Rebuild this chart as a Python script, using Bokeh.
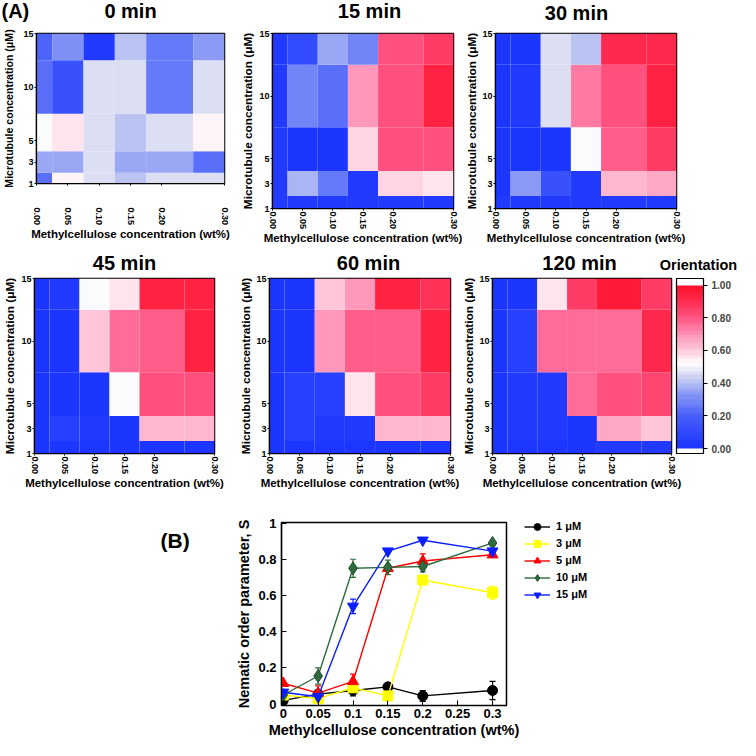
import numpy as np
from bokeh.plotting import figure
from bokeh.layouts import column, row
from bokeh.models import (ColumnDataSource, LinearColorMapper, ColorBar, FixedTicker,
                          Legend, LegendItem, Whisker, TeeHead, Range1d,
                          PrintfTickFormatter)
from bokeh.core.properties import value
from bokeh.transform import transform
from bokeh.embed import file_html
from bokeh.resources import INLINE

# ---------------- data ----------------
mc_conc = [0.00, 0.05, 0.10, 0.15, 0.20, 0.30]          # methylcellulose wt%
mc_tick_labels = ["0.00", "0.05", "0.10", "0.15", "0.20", "0.30"]
mt_conc = [1, 3, 5, 10, 15]                              # microtubule µM
mt_tick_labels = ["1", "3", "5", "10", "15"]
time_labels = ["0 min", "15 min", "30 min", "45 min", "60 min", "120 min"]

# orientation; rows = 1, 3, 5, 10, 15 µM ; columns = mc_conc
orient_0min = [
    [0.24, 0.54, 0.47, 0.40, 0.47, 0.45],
    [0.36, 0.36, 0.47, 0.36, 0.36, 0.24],
    [0.50, 0.57, 0.45, 0.40, 0.46, 0.54],
    [0.24, 0.14, 0.45, 0.47, 0.26, 0.46],
    [0.20, 0.32, 0.03, 0.40, 0.27, 0.35],
]
orient_15min = [
    [0.03, 0.03, 0.03, 0.03, 0.03, 0.03],
    [0.03, 0.38, 0.26, 0.03, 0.59, 0.56],
    [0.03, 0.02, 0.02, 0.60, 0.80, 0.80],
    [0.03, 0.28, 0.24, 0.70, 0.80, 0.95],
    [0.03, 0.10, 0.36, 0.30, 0.80, 0.87],
]
orient_30min = [
    [0.03, 0.03, 0.03, 0.03, 0.03, 0.03],
    [0.02, 0.35, 0.13, 0.03, 0.63, 0.67],
    [0.02, 0.02, 0.02, 0.52, 0.78, 0.86],
    [0.02, 0.03, 0.47, 0.73, 0.81, 0.95],
    [0.02, 0.02, 0.45, 0.40, 0.90, 0.90],
]
orient_45min = [
    [0.02, 0.02, 0.02, 0.02, 0.02, 0.02],
    [0.02, 0.06, 0.04, 0.02, 0.63, 0.63],
    [0.02, 0.02, 0.02, 0.52, 0.80, 0.80],
    [0.02, 0.02, 0.62, 0.75, 0.78, 0.95],
    [0.02, 0.04, 0.51, 0.56, 0.95, 0.95],
]
orient_60min = [
    [0.02, 0.02, 0.02, 0.02, 0.02, 0.02],
    [0.02, 0.06, 0.04, 0.03, 0.63, 0.63],
    [0.02, 0.05, 0.05, 0.56, 0.81, 0.85],
    [0.02, 0.02, 0.68, 0.79, 0.79, 0.94],
    [0.02, 0.02, 0.62, 0.68, 0.95, 0.88],
]
orient_120min = [
    [0.02, 0.02, 0.02, 0.02, 0.04, 0.04],
    [0.02, 0.03, 0.03, 0.02, 0.67, 0.61],
    [0.02, 0.04, 0.04, 0.77, 0.81, 0.83],
    [0.02, 0.05, 0.77, 0.77, 0.77, 0.92],
    [0.02, 0.02, 0.57, 0.87, 0.96, 0.87],
]
orient_all = [orient_0min, orient_15min, orient_30min, orient_45min, orient_60min, orient_120min]
cb_ticks = [0.0, 0.2, 0.4, 0.6, 0.8, 1.0]
cb_title = "Orientation"

# (B) nematic order parameter
b_x = [0.00, 0.05, 0.10, 0.15, 0.20, 0.30]
s_1uM = [0.02, 0.055, 0.075, 0.095, 0.045, 0.075]
s_1uM_err = [0.0, 0.0, 0.03, 0.0, 0.03, 0.05]
s_3uM = [0.05, 0.03, 0.09, 0.045, 0.685, 0.615]
s_3uM_err = [0.0, 0.0, 0.0, 0.0, 0.0, 0.035]
s_5uM = [0.115, 0.06, 0.125, 0.75, 0.79, 0.825]
s_5uM_err = [0.0, 0.04, 0.04, 0.0, 0.04, 0.0]
s_10uM = [0.05, 0.155, 0.75, 0.755, 0.76, 0.89]
s_10uM_err = [0.0, 0.045, 0.05, 0.04, 0.03, 0.0]
s_15uM = [0.065, 0.04, 0.54, 0.845, 0.905, 0.845]
s_15uM_err = [0.0, 0.0, 0.04, 0.0, 0.0, 0.0]
series_names = ["1 μM", "3 μM", "5 μM", "10 μM", "15 μM"]
b_xticks = [0, 0.05, 0.1, 0.15, 0.2, 0.25, 0.3]
b_xtick_labels = ["0", "0.05", "0.1", "0.15", "0.2", "0.25", "0.3"]
b_yticks = [0, 0.2, 0.4, 0.6, 0.8, 1.0]
b_ytick_labels = ["0", "0.2", "0.4", "0.6", "0.8", "1"]

# ---------------- style / layout ----------------
FONT = "Liberation Sans"
SC = 740 / 756


def k(v):
    return int(round(v * SC))


stops = [(0.0, (25, 50, 255)), (0.2, (70, 95, 250)), (0.35, (145, 160, 245)),
         (0.45, (212, 216, 240)), (0.52, (255, 255, 255)), (0.6, (255, 205, 222)),
         (0.7, (255, 145, 182)), (0.8, (255, 85, 132)), (0.9, (255, 45, 82)),
         (1.0, (255, 15, 40))]


def cmap(v):
    for (a, ca), (b, cb) in zip(stops[:-1], stops[1:]):
        if v <= b:
            t = (v - a) / (b - a)
            c = [int(round(ca[i] + t * (cb[i] - ca[i]))) for i in range(3)]
            return "#%02x%02x%02x" % tuple(c)
    return "#%02x%02x%02x" % stops[-1][1]


NB = 40
palette = [cmap((i + 0.5) / NB) for i in range(NB)]
mapper = LinearColorMapper(palette=palette, low=0.0, high=1.0)

cb_low, cb_high, cb_step = -0.03, 1.04, 0.01
cb_n = int(round((cb_high - cb_low) / cb_step))
cb_pal = []
for i in range(cb_n):
    c = cb_low + (i + 0.5) * cb_step
    cb_pal.append("#ffffff" if (c < 0 or c > 1) else palette[min(int(c * NB), NB - 1)])
cb_mapper = LinearColorMapper(palette=cb_pal, low=cb_low, high=cb_high)


def make_fig(x0, x1, fx0, fx1, height, top, bottom, xr, yr):
    p = figure(width=x1 - x0, height=height, x_range=xr, y_range=yr,
               output_backend="svg", toolbar_location=None, title=None,
               min_border_left=fx0 - x0, min_border_right=x1 - fx1,
               min_border_top=top, min_border_bottom=bottom)
    p.grid.visible = False
    p.outline_line_color = "black"
    p.outline_line_width = 1.5
    p.background_fill_color = "white"
    p.border_fill_color = "white"
    for ax in (p.xaxis[0], p.yaxis[0]):
        ax.axis_line_color = "black"
        ax.axis_line_width = 1.2
        ax.major_tick_line_color = "black"
        ax.minor_tick_line_color = None
        ax.major_label_text_font = FONT
        ax.major_label_text_font_style = "bold"
        ax.major_label_text_color = "black"
        ax.axis_label_text_font = FONT
        ax.axis_label_text_font_style = "bold"
        ax.axis_label_text_color = "black"
    return p


def blank_fig(width, height, xr, yr):
    p = figure(width=width, height=height, x_range=xr, y_range=yr,
               output_backend="svg", toolbar_location=None, title=None,
               x_axis_location=None, y_axis_location=None,
               min_border_left=0, min_border_right=0, min_border_top=0, min_border_bottom=0)
    p.grid.visible = False
    p.outline_line_color = None
    p.background_fill_color = "white"
    p.border_fill_color = "white"
    return p


def text_strip(width, height):
    # pixel coordinates, y measured downwards from the strip top
    return blank_fig(width, height, Range1d(0, width), Range1d(height, 0))


def put_text(p, xs, baselines, texts, size, align):
    ys = [b - 0.37 * size for b in baselines]
    p.text(x=xs, y=ys, text=texts, text_align=align, text_baseline="middle",
           text_font=value(FONT), text_font_style="bold", text_font_size=value("%gpx" % size),
           text_color="black")


def edges(c, lo, hi):
    mids = [(a + b) / 2 for a, b in zip(c[:-1], c[1:])]
    return [lo] + mids, mids + [hi]


xl, xr_ = edges(mc_conc, mc_conc[0], mc_conc[-1])
yb, yt = edges(mt_conc, mt_conc[0], mt_conc[-1])

W = 740
H_STRIP1, H_ROW1, H_STRIP2, H_ROW2 = 27, 224, 23, 222
H_ROW3 = W - H_STRIP1 - H_ROW1 - H_STRIP2 - H_ROW2

# (x0, x1, frame x0, frame x1, top border, bottom border, row height, x tick standoff,
#  y label standoff, y label font size)
panel_cfg = [
    (0, k(243), k(37), k(229), 6, H_ROW1 - 156, H_ROW1, 22, 5, "10.6px"),
    (k(243), k(472), k(273), k(463), 6, 43, H_ROW1, 1, 1, "11.8px"),
    (k(472), W, k(500), k(691), 6, 43, H_ROW1, 1, 0, "11.8px"),
    (0, k(241), k(30), k(219), 4, 43, H_ROW2, 1, 1, "11.8px"),
    (k(241), k(469), k(269), k(460), 4, 43, H_ROW2, 1, 0, "11.8px"),
    (k(469), W, k(496), k(686), 4, 43, H_ROW2, 1, 0, "11.8px"),
]

figs = []
for cfg, data in zip(panel_cfg, orient_all):
    x0, x1, fx0, fx1, top, bottom, hh, xstand, ystand, ylab_size = cfg
    p = make_fig(x0, x1, fx0, fx1, hh, top, bottom,
                 Range1d(mc_conc[0], mc_conc[-1]), Range1d(mt_conc[0], mt_conc[-1]))
    L, R, B, T, V = [], [], [], [], []
    for i in range(len(mt_conc)):
        for j in range(len(mc_conc)):
            L.append(xl[j]); R.append(xr_[j]); B.append(yb[i]); T.append(yt[i]); V.append(data[i][j])
    src = ColumnDataSource(dict(left=L, right=R, bottom=B, top=T, v=V))
    p.quad(left="left", right="right", bottom="bottom", top="top", source=src,
           fill_color=transform("v", mapper), line_color=None)
    xa, ya = p.xaxis[0], p.yaxis[0]
    xa.ticker = FixedTicker(ticks=mc_conc)
    xa.major_label_overrides = {v: s for v, s in zip(mc_conc, mc_tick_labels)}
    xa.major_label_orientation = "vertical"
    xa.major_label_text_font_size = "9px"
    xa.major_tick_in = 0
    xa.major_tick_out = 2
    xa.major_label_standoff = xstand
    xa.axis_label = "Methylcellulose concentration (wt%)"
    xa.axis_label_text_font_size = "11.5px"
    xa.axis_label_standoff = 0
    ya.ticker = FixedTicker(ticks=mt_conc)
    ya.major_label_overrides = {v: s for v, s in zip(mt_conc, mt_tick_labels)}
    ya.major_label_text_font_size = "9px"
    ya.major_tick_in = 0
    ya.major_tick_out = 2
    ya.major_label_standoff = 1
    ya.axis_label = "Microtubule concentration (μM)"
    ya.axis_label_text_font_size = ylab_size
    ya.axis_label_standoff = ystand
    figs.append(p)

# colour bar next to 120 min panel (same height as the heat-map frame)
p120 = figs[5]
frame_h2 = H_ROW2 - 4 - 43
cb = ColorBar(color_mapper=cb_mapper, ticker=FixedTicker(ticks=cb_ticks),
              formatter=PrintfTickFormatter(format="%.2f"),
              width=k(718) - k(691), height=frame_h2,
              location=(k(691) - k(496) - 6, 0), margin=0, padding=0,
              major_tick_in=0, major_tick_out=4, major_tick_line_color="black",
              minor_tick_line_color=None, bar_line_color="black", bar_line_width=1.2,
              label_standoff=4, major_label_text_font=FONT, major_label_text_font_style="bold",
              major_label_text_font_size="10px", background_fill_alpha=0, border_line_color=None)
p120.add_layout(cb)

# title strips
strip1 = text_strip(W, H_STRIP1)
put_text(strip1, [1], [18], ["(A)"], 20, "left")
put_text(strip1, [k(133), k(377), k(588)], [18, 18, 20], time_labels[:3], 20, "center")
strip2 = text_strip(W, H_STRIP2)
put_text(strip2, [k(127), k(376), k(592)], [18.5, 19, 19], time_labels[3:], 20, "center")
put_text(strip2, [k(713)], [19], [cb_title], 14.5, "center")

# ---------------- (B) ----------------
XB0, XB1 = k(200), k(535)
bstrip = text_strip(XB0, H_ROW3)
put_text(bstrip, [k(163)], [52], ["(B)"], 21, "left")

pB = make_fig(XB0, XB1, k(287), k(517), H_ROW3, 26, 35,
              Range1d(-0.0025, 0.32), Range1d(-0.008, 1.003))
bx, by = pB.xaxis[0], pB.yaxis[0]
bx.ticker = FixedTicker(ticks=b_xticks)
bx.major_label_overrides = {v: s for v, s in zip(b_xticks, b_xtick_labels)}
by.ticker = FixedTicker(ticks=b_yticks)
by.major_label_overrides = {v: s for v, s in zip(b_yticks, b_ytick_labels)}
for ax in (bx, by):
    ax.major_tick_in = 5
    ax.major_tick_out = 0
    ax.major_label_text_font_size = "13px"
bx.major_label_standoff = 3
by.major_label_standoff = 5
bx.axis_label = "Methylcellulose concentration (wt%)"
bx.axis_label_text_font_size = "14.5px"
bx.axis_label_standoff = 1
by.axis_label = "Nematic order parameter, S"
by.axis_label_text_font_size = "14.5px"
by.axis_label_standoff = 3

b_vals = [s_1uM, s_3uM, s_5uM, s_10uM, s_15uM]
b_errs = [s_1uM_err, s_3uM_err, s_5uM_err, s_10uM_err, s_15uM_err]
b_colors = ["black", "#ffff00", "#ff0000", "#2e6b3d", "#0a1eff"]
b_markers = ["circle", "square", "triangle", "diamond", "inverted_triangle"]
b_sizes = [10, 10, 11, 13, 11]

# legend in its own panel right of (B); its renderers reuse the series data but its
# ranges are far away from the data, so only the legend itself shows
legfig = blank_fig(W - XB1, H_ROW3, Range1d(10, 11), Range1d(10, 11))
items = []
for name, vals, errs, col, mk, sz in zip(series_names, b_vals, b_errs, b_colors, b_markers, b_sizes):
    ex = [x for x, e in zip(b_x, errs) if e > 0]
    eu = [v + e for v, e in zip(vals, errs) if e > 0]
    el = [v - e for v, e in zip(vals, errs) if e > 0]
    wsrc = ColumnDataSource(dict(x=ex, upper=eu, lower=el))
    pB.add_layout(Whisker(source=wsrc, base="x", upper="upper", lower="lower", line_color=col,
                          line_width=1.2,
                          upper_head=TeeHead(size=6, line_color=col, line_width=1.2),
                          lower_head=TeeHead(size=6, line_color=col, line_width=1.2)))
    src = ColumnDataSource(dict(x=b_x, y=vals))
    lc = "#1e4d2b" if mk == "diamond" else col
    pB.line("x", "y", source=src, line_color=col, line_width=1.4)
    pB.scatter("x", "y", source=src, marker=mk, size=sz, fill_color=col, line_color=lc, line_width=1)
    lr = legfig.line("x", "y", source=src, line_color=col, line_width=1.4)
    sr = legfig.scatter("x", "y", source=src, marker=mk, size=sz, fill_color=col, line_color=lc, line_width=1)
    items.append(LegendItem(label=name, renderers=[lr, sr]))

ROW_H = 17
leg_h = 5 * ROW_H
first_center = 30
leg = Legend(items=items, location=(0, H_ROW3 - (first_center - ROW_H / 2) - leg_h), glyph_width=26,
             glyph_height=ROW_H, label_height=ROW_H, spacing=0, padding=0, margin=0,
             label_standoff=6, label_text_font=FONT, label_text_font_style="bold",
             label_text_font_size="11px", label_text_color="black",
             border_line_color=None, background_fill_alpha=0)
legfig.add_layout(leg)

layout = column(strip1,
                row(column(figs[0]), column(figs[1]), column(figs[2]), spacing=0),
                strip2,
                row(column(figs[3]), column(figs[4]), column(figs[5]), spacing=0),
                row(column(bstrip), column(pB), column(legfig), spacing=0),
                spacing=0)

open("out.html", "w").write(file_html(layout, INLINE))
